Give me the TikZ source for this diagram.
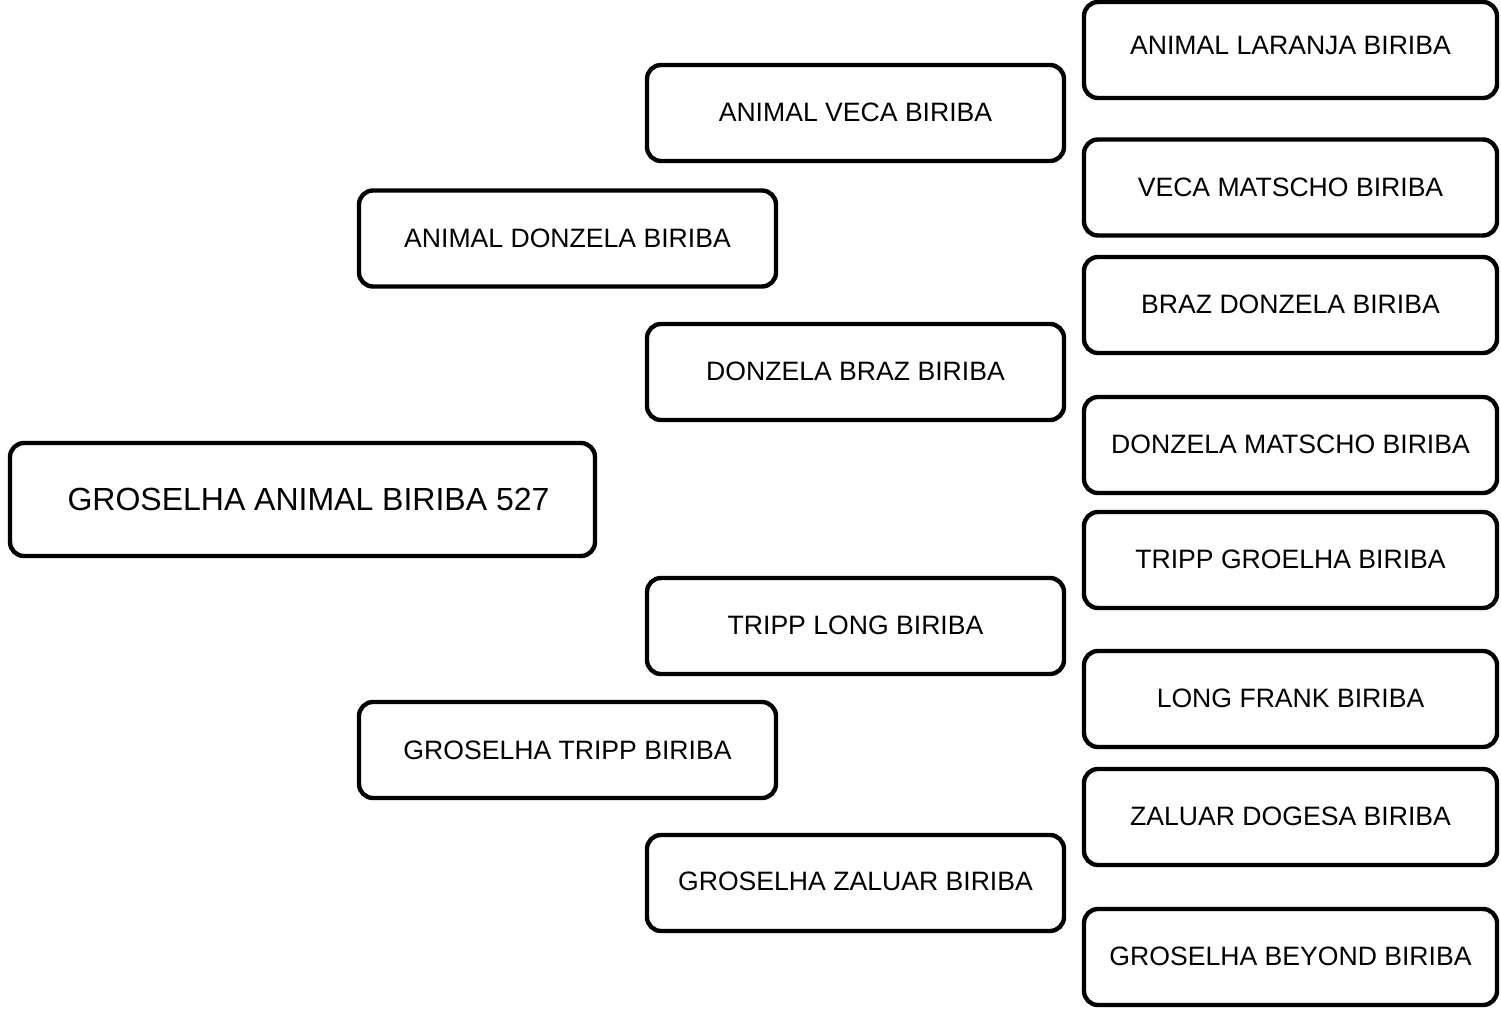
\documentclass[tikz,border=0pt]{standalone}
\usepackage{fontspec}
\setmainfont{Liberation Sans}
\begin{document}
\begin{tikzpicture}[x=1pt,y=-1pt,
  box/.style={draw=black, line width=4.4pt, rounded corners=14pt, fill=white,
    inner sep=0pt, minimum height=96pt, font=\fontsize{26.6}{30}\selectfont},
  rbox/.style={box, minimum width=413pt},
  mbox/.style={box, minimum width=417pt},
  lbox/.style={box, minimum width=417pt},
  rootbox/.style={box, minimum width=585pt, minimum height=113pt,
    font=\fontsize{32}{36}\selectfont}]
\useasboundingbox (0,0) rectangle (1501,1011);
% root
\node[rootbox] (root) at (302.5,499.5) {\hspace*{12pt}GROSELHA ANIMAL BIRIBA 527};
% left column
\node[lbox] (l1) at (567.5,238.5) {\raisebox{-1.5pt}{ANIMAL DONZELA BIRIBA}};
\node[lbox] (l2) at (567.5,750) {GROSELHA TRIPP BIRIBA};
% middle column
\node[mbox] (m1) at (855.5,113) {\raisebox{1pt}{ANIMAL VECA BIRIBA}};
\node[mbox] (m2) at (855.5,372) {\raisebox{1pt}{DONZELA BRAZ BIRIBA}};
\node[mbox] (m3) at (855.5,626) {\raisebox{2pt}{TRIPP LONG BIRIBA}};
\node[mbox] (m4) at (855.5,883) {\raisebox{3pt}{GROSELHA ZALUAR BIRIBA}};
% right column
\node[rbox] (r1) at (1290.5,50) {\raisebox{9pt}{ANIMAL LARANJA BIRIBA}};
\node[rbox] (r2) at (1290.5,187.5) {\raisebox{1pt}{VECA MATSCHO BIRIBA}};
\node[rbox] (r3) at (1290.5,305) {\raisebox{2pt}{BRAZ DONZELA BIRIBA}};
\node[rbox] (r4) at (1290.5,445) {\raisebox{2pt}{DONZELA MATSCHO BIRIBA}};
\node[rbox] (r5) at (1290.5,560) {\raisebox{2pt}{TRIPP GROELHA BIRIBA}};
\node[rbox] (r6) at (1290.5,699) {\raisebox{2pt}{LONG FRANK BIRIBA}};
\node[rbox] (r7) at (1290.5,817) {\raisebox{2pt}{ZALUAR DOGESA BIRIBA}};
\node[rbox] (r8) at (1290.5,957) {\raisebox{2pt}{GROSELHA BEYOND BIRIBA}};
\end{tikzpicture}
\end{document}
